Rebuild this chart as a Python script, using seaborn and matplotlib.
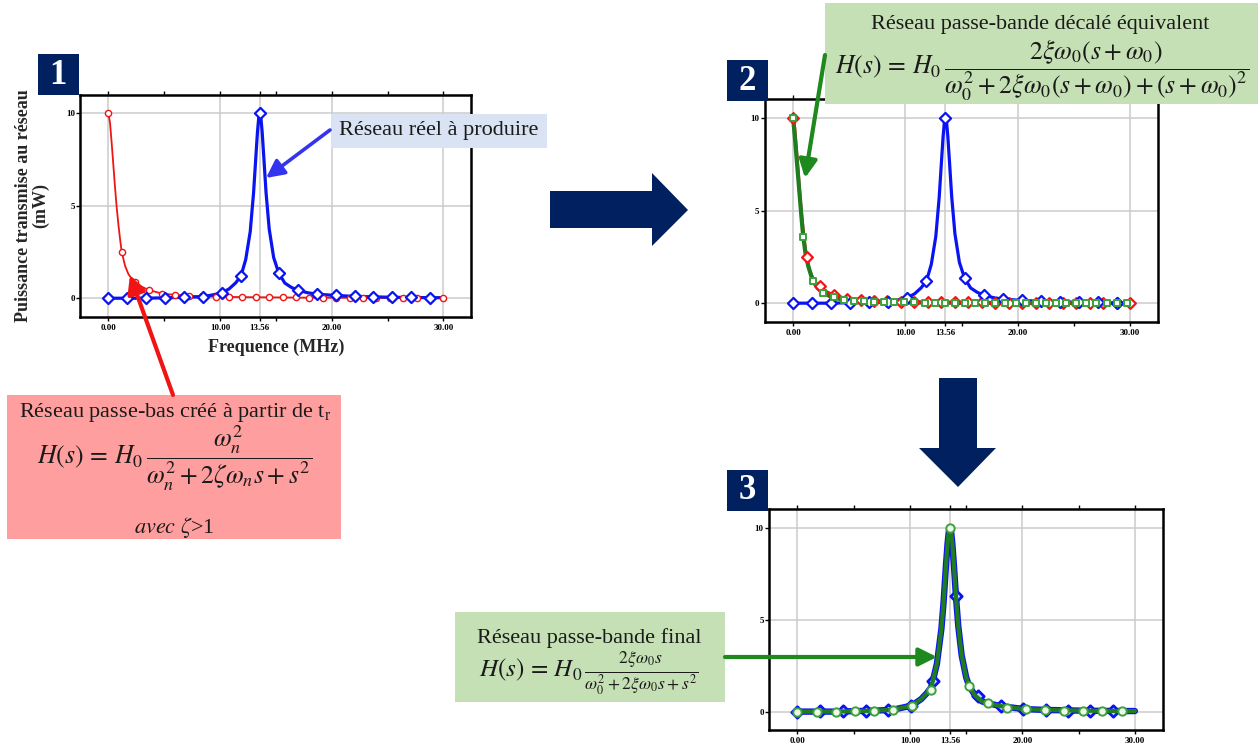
import matplotlib
matplotlib.use("Agg")
import matplotlib.pyplot as plt
import seaborn as sns
from matplotlib.patches import Rectangle, Polygon, FancyArrowPatch

# ---------------- data ----------------
TICKS_X = [0.0, 10.0, 13.56, 20.0, 30.0]
TICK_LABELS_X = ["0.00", "10.00", "13.56", "20.00", "30.00"]
TICKS_Y = [0, 5, 10]
TICK_LABELS_Y = ["0", "5", "10"]

# real band-pass network (blue) - markers
f_blue = [0.00, 1.70, 3.39, 5.09, 6.78, 8.48, 10.17, 11.87, 13.56, 15.26,
          16.95, 18.65, 20.34, 22.04, 23.73, 25.43, 27.12, 28.82]
p_blue = [0.0, 0.0, 0.0, 0.03, 0.05, 0.08, 0.3, 1.2, 10.0, 1.35,
          0.45, 0.22, 0.15, 0.1, 0.07, 0.05, 0.04, 0.03]
# blue curve (dense reading)
fc_blue = [0.0, 3.39, 6.78, 8.48, 9.5, 10.17, 10.8, 11.4, 11.87, 12.3, 12.7, 13.0,
           13.2, 13.35, 13.46, 13.56, 13.66, 13.77, 13.92, 14.12, 14.4, 14.8, 15.26,
           15.8, 16.4, 16.95, 17.8, 18.65, 20.34, 22.04, 25.43, 28.82, 30.0]
pc_blue = [0.0, 0.0, 0.05, 0.08, 0.2, 0.3, 0.5, 0.83, 1.2, 2.1, 3.6, 5.7,
           7.6, 9.0, 9.75, 10.0, 9.75, 9.0, 7.6, 5.7, 3.75, 2.2, 1.35,
           0.82, 0.58, 0.45, 0.3, 0.22, 0.15, 0.1, 0.05, 0.03, 0.03]

# low-pass network (red) - markers
f_red = [0.0, 1.2, 2.4, 3.6, 4.8, 6.0, 7.2, 8.4, 9.6, 10.8, 12.0, 13.2, 14.4,
         15.6, 16.8, 18.0, 19.2, 20.4, 21.6, 22.8, 24.0, 25.2, 26.4, 27.6, 28.8, 30.0]
p_red = [10.0, 2.5, 0.9, 0.45, 0.25, 0.18, 0.13, 0.1, 0.08, 0.07, 0.06, 0.05, 0.05,
         0.04, 0.04, 0.03, 0.03, 0.03, 0.02, 0.02, 0.02, 0.02, 0.02, 0.01, 0.01, 0.01]
fc_red = [0.0, 0.15, 0.3, 0.45, 0.6, 0.75, 0.9, 1.05, 1.2, 1.5, 1.8, 2.1, 2.4,
          3.0, 3.6, 4.8, 6.0, 8.4, 12.0, 18.0, 24.0, 30.0]
pc_red = [10.0, 9.5, 8.4, 7.2, 6.0, 4.9, 4.0, 3.2, 2.5, 1.75, 1.3, 1.05, 0.9,
          0.62, 0.45, 0.25, 0.18, 0.1, 0.06, 0.03, 0.02, 0.01]

# shifted equivalent band-pass (green, panel 2) - markers
f_green2 = [0.0, 0.9, 1.8, 2.7, 3.6, 4.5, 5.4, 6.3, 7.2, 8.1, 9.0, 9.9, 10.8,
            11.7, 12.6, 13.5, 14.4, 15.3, 16.2, 17.1, 18.0, 18.9, 19.8, 20.7,
            21.6, 22.5, 23.4, 24.3, 25.2, 26.1, 27.0, 27.9, 28.8, 29.7]
p_green2 = [10.0, 3.57, 1.17, 0.54, 0.31, 0.18, 0.12, 0.09, 0.07, 0.06, 0.05, 0.04,
            0.04, 0.03, 0.03, 0.03, 0.02, 0.02, 0.02, 0.02, 0.02, 0.01, 0.01, 0.01,
            0.01, 0.01, 0.01, 0.01, 0.0, 0.0, 0.0, 0.0, 0.0, 0.0]
fc_green2 = [0.0, 0.15, 0.3, 0.45, 0.6, 0.75, 0.9, 1.1, 1.35, 1.6, 1.8, 2.2, 2.7,
             3.2, 3.6, 4.5, 5.5, 7.0, 10.0, 15.0, 20.0, 25.0, 30.0]
pc_green2 = [10.0, 9.0, 7.9, 6.8, 5.7, 4.6, 3.6, 2.7, 2.0, 1.5, 1.17, 0.8, 0.54,
             0.4, 0.31, 0.18, 0.12, 0.07, 0.04, 0.02, 0.01, 0.01, 0.0]

# final band-pass (panel 3)
f_blue3 = [0.0, 2.03, 4.06, 6.07, 8.08, 10.08, 12.03, 14.1, 16.04, 18.08,
           20.08, 22.07, 24.06, 26.05, 28.07]
p_blue3 = [0.0, 0.02, 0.03, 0.05, 0.1, 0.3, 1.65, 6.3, 0.85, 0.3,
           0.15, 0.1, 0.06, 0.04, 0.03]
f_green3 = f_blue
p_green3 = [0.0, 0.0, 0.0, 0.02, 0.05, 0.1, 0.3, 1.2, 10.0, 1.4,
            0.45, 0.22, 0.13, 0.1, 0.06, 0.05, 0.04, 0.03]
fc3 = [0.0, 3.39, 6.78, 8.48, 10.17, 11.0, 11.5, 11.87, 12.03, 12.4, 12.8, 13.0,
       13.2, 13.35, 13.46, 13.56, 13.66, 13.77, 13.92, 14.1, 14.3, 14.6, 15.0,
       15.26, 15.8, 16.4, 16.95, 18.08, 20.08, 22.07, 25.43, 28.82, 30.0]
pc3 = [0.0, 0.0, 0.05, 0.1, 0.33, 0.68, 1.0, 1.3, 1.65, 2.6, 4.5, 6.0,
       7.9, 9.15, 9.8, 10.0, 9.8, 9.15, 7.9, 6.2, 4.65, 3.06, 1.87,
       1.4, 0.87, 0.56, 0.45, 0.3, 0.14, 0.09, 0.05, 0.03, 0.03]

# ---------------- style ----------------
sns.set_theme(style="white")
plt.rcParams["font.family"] = ["Liberation Serif", "DejaVu Serif"]
plt.rcParams["mathtext.fontset"] = "stix"

BLUE = "#0a14f0"
RED = "#f01414"
GREEN = "#1f7d1f"
LGREEN = "#3ca03c"
NAVY = "#002060"

W, H = 1258, 747
fig = plt.figure(figsize=(12.58, 7.47), dpi=100)
fig.patch.set_facecolor("white")


def fx(x):
    return x / W


def fy(y):
    return 1 - y / H


def add_axes(l, t, r, b):
    return fig.add_axes([l / W, 1 - b / H, (r - l) / W, (b - t) / H])


def style(ax):
    ax.set_xlim(-2.5, 32.5)
    ax.set_ylim(-1, 11)
    ax.set_xticks(TICKS_X)
    ax.set_xticklabels(TICK_LABELS_X)
    ax.set_xticks([5, 15, 25], minor=True)
    ax.set_yticks(TICKS_Y)
    ax.set_yticklabels(TICK_LABELS_Y)
    ax.grid(True, which="major", color="#cccccc", lw=1.1)
    ax.set_axisbelow(True)
    for s in ax.spines.values():
        s.set_visible(True)
        s.set_color("black")
        s.set_linewidth(1.8)
    ax.tick_params(axis="x", which="both", direction="out", length=3, width=1,
                   top=True, bottom=True, labelsize=6.5, pad=2, colors="black")
    ax.tick_params(axis="y", direction="out", length=3, width=1, left=True,
                   labelsize=6.5, pad=1, colors="black")
    for lab in ax.get_xticklabels() + ax.get_yticklabels():
        lab.set_fontweight("bold")
    ax.set_xlabel("")
    ax.set_ylabel("")


ax1 = add_axes(80.4, 95, 471.4, 316.7)
ax2 = add_axes(765, 99.3, 1158.3, 321.7)
ax3 = add_axes(769.3, 509.3, 1163, 730)

# panel 1
sns.lineplot(x=fc_red, y=pc_red, ax=ax1, color=RED, lw=1.3)
sns.scatterplot(x=f_red, y=p_red, ax=ax1, marker="o", s=20, color="white",
                edgecolor=RED, linewidth=1.0, zorder=4)
sns.lineplot(x=fc_blue, y=pc_blue, ax=ax1, color=BLUE, lw=2.3)
sns.scatterplot(x=f_blue, y=p_blue, ax=ax1, marker="D", s=32, color="white",
                edgecolor=BLUE, linewidth=1.6, zorder=5)
style(ax1)
ax1.set_xlabel("Frequence (MHz)", fontsize=13, fontweight="bold", labelpad=5)
ax1.set_ylabel("Puissance transmise au réseau\n(mW)", fontsize=13,
               fontweight="bold", labelpad=12, linespacing=1.0)

# panel 2
sns.lineplot(x=fc_blue, y=pc_blue, ax=ax2, color=BLUE, lw=2.3)
sns.scatterplot(x=f_blue, y=p_blue, ax=ax2, marker="D", s=32, color="white",
                edgecolor=BLUE, linewidth=1.6, zorder=5)
sns.lineplot(x=fc_red, y=pc_red, ax=ax2, color=RED, lw=2.0)
sns.scatterplot(x=f_red, y=p_red, ax=ax2, marker="D", s=30, color="white",
                edgecolor=RED, linewidth=1.6, zorder=4)
sns.lineplot(x=fc_green2, y=pc_green2, ax=ax2, color=GREEN, lw=3.0)
sns.scatterplot(x=f_green2, y=p_green2, ax=ax2, marker="s", s=20, color="white",
                edgecolor=LGREEN, linewidth=1.4, zorder=6)
style(ax2)

# panel 3
sns.lineplot(x=fc3, y=pc3, ax=ax3, color=BLUE, lw=4.6)
sns.scatterplot(x=f_blue3, y=p_blue3, ax=ax3, marker="D", s=34, color="#c8ccff",
                edgecolor=BLUE, linewidth=2.0, zorder=4)
sns.lineplot(x=fc3, y=pc3, ax=ax3, color=GREEN, lw=3.0)
ax3.lines[-1].set_zorder(5)
sns.scatterplot(x=f_green3, y=p_green3, ax=ax3, marker="o", s=36, color="#f0f8ea",
                edgecolor=LGREEN, linewidth=1.4, zorder=6)
style(ax3)


# ---------------- annotations ----------------
def rect(l, t, r, b, color, z=5):
    fig.add_artist(Rectangle((fx(l), fy(b)), (r - l) / W, (b - t) / H,
                             transform=fig.transFigure, facecolor=color,
                             edgecolor="none", zorder=z))


def text(x, y, s, size=16, **kw):
    fig.text(fx(x), fy(y), s, ha="center", va="center", fontsize=size,
             color="#1a1a1a", zorder=8, **kw)


def arrow(x0, y0, x1, y1, color, lw=2.4, hl=0.9, hw=0.45):
    fig.add_artist(FancyArrowPatch((fx(x0), fy(y0)), (fx(x1), fy(y1)),
                                   transform=fig.transFigure,
                                   arrowstyle=f"-|>,head_length={hl},head_width={hw}",
                                   mutation_scale=12, color=color, lw=lw,
                                   shrinkA=0, shrinkB=0, zorder=9))


def poly(pts, color):
    fig.add_artist(Polygon([(fx(x), fy(y)) for x, y in pts], closed=True,
                           transform=fig.transFigure, facecolor=color,
                           edgecolor="none", zorder=5))


# numbered boxes
for (l, t, num) in [(37.5, 54, "1"), (727, 60, "2"), (727, 470, "3")]:
    rect(l, t, l + 41, t + 41, NAVY)
    fig.text(fx(l + 20.5), fy(t + 21), num, ha="center", va="center",
             fontsize=25, fontweight="bold", color="white", zorder=8)

# big navy arrows
poly([(550, 191), (652, 191), (652, 173), (688, 210), (652, 246), (652, 228), (550, 228)], NAVY)
poly([(939, 378), (977, 378), (977, 448), (996, 448), (958, 487), (919, 448), (939, 448)], NAVY)

# blue label
rect(331, 114, 547, 148, "#dae3f3")
text(439, 131, "Réseau réel à produire", 16)
arrow(330, 130, 266, 178, "#3434f0", lw=2.6)

# red / pink label
rect(7.3, 395, 340.7, 539.3, "#ff9e9e")
text(175, 413, r"Réseau passe-bas créé à partir de t$_{\mathregular{r}}$", 16)
text(175, 458, r"$H(s)\,=\,H_0\,\dfrac{\omega_n^2}{\omega_n^2+2\zeta\omega_n s+s^2}$", 18.5)
text(174, 527, r"$avec\ \zeta$>1", 16)
arrow(173, 395, 130, 275, RED, lw=3.0)

# green label panel 2
rect(825, 3.3, 1257.7, 104, "#c5e0b4")
text(1040, 25, "Réseau passe-bande décalé équivalent", 16)
text(1042, 70, r"$H(s)\,=\,H_0\,\dfrac{2\xi\omega_0(s+\omega_0)}{\omega_0^2+2\xi\omega_0(s+\omega_0)+(s+\omega_0)^2}$", 18.5)
arrow(825, 55, 805, 178, "#1e8a1e", lw=3.0)

# green label panel 3
rect(455, 612, 725, 702, "#c5e0b4")
text(589, 638, "Réseau passe-bande final", 16)
text(589, 673, r"$H(s)\,=\,H_0\,\frac{2\xi\omega_0 s}{\omega_0^2+2\xi\omega_0 s+s^2}$", 18)
arrow(725, 657, 937, 657, "#1e8a1e", lw=3.0)

fig.savefig("out.png", dpi=100, facecolor="white")
